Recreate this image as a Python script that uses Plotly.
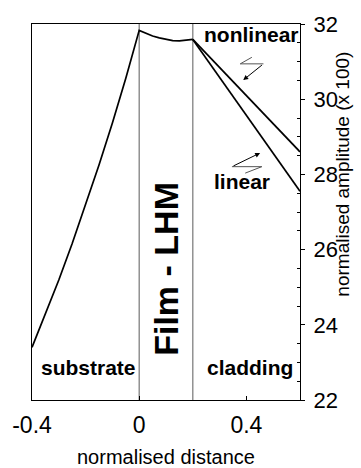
import plotly.graph_objects as go

# Field profile across the three layers (normalised distance vs amplitude x 100)
substrate_x = [-0.4, -0.35, -0.3, -0.25, -0.2, -0.15, -0.1, -0.05, 0.0]
substrate_y = [23.4, 24.27, 25.19, 26.16, 27.18, 28.25, 29.37, 30.56, 31.83]

film_x = [0.0, 0.025, 0.05, 0.075, 0.1, 0.125, 0.15, 0.175, 0.2]
film_y = [31.83, 31.75, 31.68, 31.63, 31.59, 31.56, 31.55, 31.56, 31.59]

cladding_x = [0.2, 0.3, 0.4, 0.5, 0.6]
cladding_nonlinear_y = [31.59, 30.84, 30.1, 29.35, 28.6]
cladding_linear_y = [31.59, 30.58, 29.57, 28.56, 27.55]

x_ticks = [-0.4, 0.0, 0.4]
x_tick_labels = ["-0.4", "0", "0.4"]
y_ticks = [22, 24, 26, 28, 30, 32]
y_tick_labels = ["22", "24", "26", "28", "30", "32"]
interfaces = [0.0, 0.2]

FONT = "Liberation Sans, Arial, sans-serif"
line_style = dict(color="black", width=1.7)

fig = go.Figure()
fig.add_trace(go.Scatter(x=substrate_x + film_x[1:], y=substrate_y + film_y[1:],
                         mode="lines", line=line_style, showlegend=False))
fig.add_trace(go.Scatter(x=cladding_x, y=cladding_nonlinear_y, mode="lines",
                         line=line_style, showlegend=False))
fig.add_trace(go.Scatter(x=cladding_x, y=cladding_linear_y, mode="lines",
                         line=line_style, showlegend=False))

# layer boundaries
for xv in interfaces:
    fig.add_shape(type="line", x0=xv, x1=xv, y0=22, y1=32, xref="x", yref="y",
                  line=dict(color="#808080", width=1.3), layer="below")

# pixel -> data helpers for the little zig-zag markers
X0, X1, Y0, Y1 = 31, 300, 16, 400
def dx(px):
    return -0.4 + (px - X0) / (X1 - X0) * 1.0
def dy(py):
    return 32 - (py - Y0) / (Y1 - Y0) * 10.0

def zigzag(points):
    path = "M " + " L ".join(f"{dx(a):.4f},{dy(b):.4f}" for a, b in points[:-1])
    fig.add_shape(type="path", path=path, xref="x", yref="y",
                  line=dict(color="#555555", width=1))
    (ax, ay), (hx, hy) = points[-2], points[-1]
    fig.add_annotation(x=dx(hx), y=dy(hy), ax=dx(ax), ay=dy(ay), xref="x", yref="y",
                       axref="x", ayref="y", showarrow=True, arrowhead=2,
                       arrowsize=1, arrowwidth=1, arrowcolor="black", text="")

zigzag([(251.7, 50), (240, 56.7), (263.3, 56.7), (243, 73.3)])
zigzag([(245, 168.3), (261.7, 161.7), (231.7, 161.7), (260, 147.7)])

W, H = 361, 468
def px(x):
    return (x - X0) / (X1 - X0)
def py(y):
    return (Y1 - y) / (Y1 - Y0)

def text_at(text, x, y, size, angle=0):
    fig.add_annotation(text=text, x=px(x), y=py(y), xref="paper", yref="paper",
                       xanchor="center", yanchor="middle", showarrow=False,
                       textangle=angle, font=dict(family=FONT, size=size, color="black"))

text_at("<b>nonlinear</b>", 251, 27, 21)
text_at("<b>linear</b>", 242, 177, 21)
text_at("<b>substrate</b>", 88, 367, 21)
text_at("<b>cladding</b>", 250, 367, 21)
text_at("<b>Film - LHM</b>", 165.5, 266, 34, angle=-90)
text_at("normalised distance", 165, 458, 20)
text_at("normalised amplitude (x 100)", 343, 169, 19, angle=-90)

fig.update_layout(
    width=W, height=H,
    margin=dict(l=X0, r=W - X1, t=Y0, b=H - Y1),
    paper_bgcolor="white", plot_bgcolor="white",
    font=dict(family=FONT, color="black"),
    xaxis=dict(range=[-0.4, 0.6], tickvals=x_ticks, ticktext=x_tick_labels,
               ticks="inside", ticklen=4, tickwidth=1.3, tickcolor="black",
               showline=True, linecolor="black", linewidth=1.3, mirror=True,
               showgrid=False, zeroline=False, tickfont=dict(size=23),
               ticklabelstandoff=4),
    yaxis=dict(range=[22, 32], side="right", tickvals=y_ticks, ticktext=y_tick_labels,
               ticks="outside", ticklen=4, tickwidth=1.3, tickcolor="black",
               minor=dict(tickvals=[v / 2 for v in range(44, 65) if v % 4 != 0],
                          ticks="inside", ticklen=3, tickcolor="black"),
               showline=True, linecolor="black", linewidth=1.3, mirror=True,
               showgrid=False, zeroline=False, tickfont=dict(size=22),
               ticklabelstandoff=4),
)

fig.write_html("out.html")
